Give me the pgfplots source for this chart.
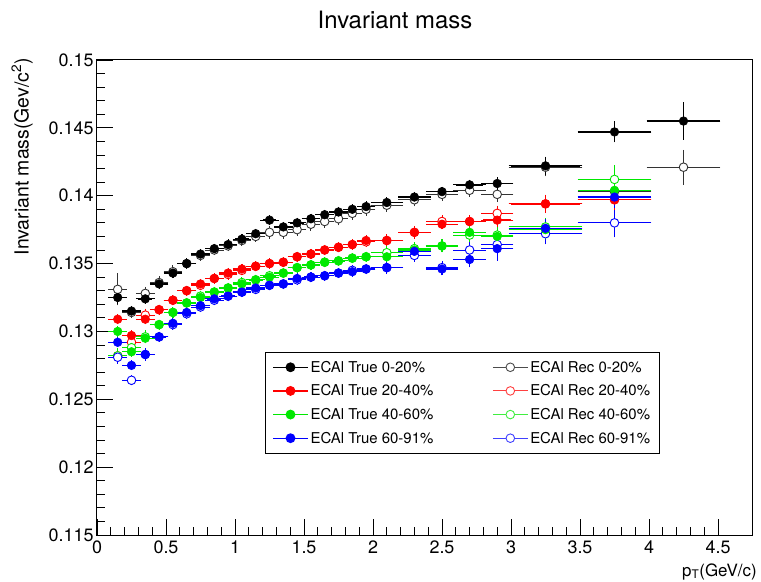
\documentclass[border=0pt]{standalone}
\usepackage{pgfplots}
\pgfplotsset{compat=1.18}
\usepackage{fontspec}
\setmainfont{TeX Gyre Heros}
\definecolor{rred}{RGB}{255,0,0}
\definecolor{rgreen}{RGB}{0,232,0}
\definecolor{rblue}{RGB}{0,0,255}
\newcommand{\padR}{\hspace{12bp}}
\pgfplotsset{
  trueS/.style={only marks, mark=*, mark size=4.3bp, color=#1,
    mark options={fill=#1, draw=#1, line width=0.6bp},
    error bars/x dir=both, error bars/x explicit,
    error bars/y dir=both, error bars/y explicit,
    error bars/error bar style={color=#1, line width=1.3bp},
    error bars/error mark options={color=#1, mark size=2.4bp, line width=1.2bp}},
  recS/.style={only marks, mark=*, mark size=4.3bp, color=#1,
    mark options={fill=white, draw=#1, line width=0.9bp},
    error bars/x dir=both, error bars/x explicit,
    error bars/y dir=both, error bars/y explicit,
    error bars/error bar style={color=#1, line width=0.9bp},
    error bars/error mark options={color=#1, mark size=2.4bp, line width=0.9bp}},
  legT/.style={color=#1, mark=*, mark size=4.3bp, line width=1.2bp,
    mark options={fill=#1, draw=#1},
    legend image code/.code={\draw[mark repeat=2,mark phase=2] plot coordinates {(0bp,0bp) (17.5bp,0bp) (35bp,0bp)};}},
  legR/.style={color=#1, mark=*, mark size=4.3bp, line width=0.9bp,
    mark options={fill=white, draw=#1},
    legend image code/.code={\draw[mark repeat=2,mark phase=2] plot coordinates {(0bp,0bp) (17.5bp,0bp) (35bp,0bp)};}},
}
\begin{document}
\begin{tikzpicture}
\path[use as bounding box] (-97bp,-47bp) rectangle (664bp,535bp);
\begin{axis}[
  at={(0,0)}, anchor=south west,
  scale only axis, width=655.5bp, height=475bp,
  xmin=0, xmax=4.75, ymin=0.115, ymax=0.15,
  xtick={0,0.5,1,1.5,2,2.5,3,3.5,4,4.5},
  ytick={0.115,0.12,0.125,0.13,0.135,0.14,0.145,0.15},
  minor x tick num=4, minor y tick num=4,
  tick pos=left, tick align=inside,
  major tick length=16bp, minor tick length=8bp,
  every tick/.style={black, line width=0.9bp},
  axis line style={black, line width=1bp},
  scaled y ticks=false, scaled x ticks=false,
  /pgf/number format/assume math mode=true,
  ticklabel style={font=\fontsize{18}{21}\selectfont},
  xticklabel style={yshift=-2bp, /pgf/number format/.cd, fixed, precision=2},
  yticklabel style={/pgf/number format/.cd, fixed, precision=3},
  legend columns=2, legend cell align=left,
  legend style={at={(axis cs:1.2174,0.12848)}, anchor=north west,
    draw=black, line width=0.8bp, fill=white,
    font=\fontsize{15}{17}\selectfont,
    inner xsep=7bp, inner ysep=6.5bp, row sep=7bp,
    /tikz/every even column/.append style={column sep=57bp}},
]
\addlegendimage{legT=black}\addlegendentry{ECAl True 0-20\%}
\addlegendimage{legR=black!70}\addlegendentry{ECAl Rec 0-20\%\padR}
\addlegendimage{legT=rred}\addlegendentry{ECAl True 20-40\%}
\addlegendimage{legR=rred!75}\addlegendentry{ECAl Rec 20-40\%\padR}
\addlegendimage{legT=rgreen}\addlegendentry{ECAl True 40-60\%}
\addlegendimage{legR=rgreen!75}\addlegendentry{ECAl Rec 40-60\%\padR}
\addlegendimage{legT=rblue}\addlegendentry{ECAl True 60-91\%}
\addlegendimage{legR=rblue!75}\addlegendentry{ECAl Rec 60-91\%\padR}

% ---------- Rec (open) ----------
\addplot[recS=black!80, forget plot] table[x=x, y=y, x error=ex, y error=ey] {
x y ex ey
0.15 0.1331 0.05 0.0010
0.25 0.1314 0.05 0.0002
0.35 0.1328 0.05 0.0003
0.45 0.1336 0.05 0.0003
0.55 0.1344 0.05 0.0003
0.65 0.1350 0.05 0.0002
0.75 0.1356 0.05 0.0002
0.85 0.1360 0.05 0.0002
0.95 0.1363 0.05 0.0002
1.05 0.1367 0.05 0.0002
1.15 0.1370 0.05 0.0002
1.25 0.1373 0.05 0.0003
1.35 0.1373 0.05 0.0003
1.45 0.1375 0.05 0.0003
1.55 0.1379 0.05 0.0003
1.65 0.1381 0.05 0.0003
1.75 0.1383 0.05 0.0003
1.85 0.1387 0.05 0.0003
1.95 0.1390 0.05 0.0003
2.1 0.1393 0.1 0.0003
2.3 0.1397 0.1 0.0003
2.5 0.1401 0.1 0.0003
2.7 0.1404 0.1 0.0003
2.9 0.1401 0.1 0.0004
3.25 0.1421 0.25 0.0005
3.75 0.1403 0.25 0.0007
4.25 0.1421 0.25 0.0011
};
\addplot[recS=rred, forget plot] table[x=x, y=y, x error=ex, y error=ey] {
x y ex ey
0.15 0.1282 0.05 0.0004
0.25 0.1292 0.05 0.0003
0.35 0.1312 0.05 0.0003
0.45 0.1316 0.05 0.0002
0.55 0.1323 0.05 0.0002
0.65 0.1330 0.05 0.0002
0.75 0.1334 0.05 0.0002
0.85 0.1339 0.05 0.0002
0.95 0.1342 0.05 0.0002
1.05 0.1345 0.05 0.0002
1.15 0.1348 0.05 0.0002
1.25 0.1350 0.05 0.0002
1.35 0.1351 0.05 0.0002
1.45 0.1355 0.05 0.0002
1.55 0.1357 0.05 0.0002
1.65 0.1360 0.05 0.0002
1.75 0.1362 0.05 0.0002
1.85 0.1364 0.05 0.0002
1.95 0.1366 0.05 0.0002
2.1 0.1367 0.1 0.0003
2.3 0.1373 0.1 0.0003
2.5 0.1381 0.1 0.0003
2.7 0.1381 0.1 0.0003
2.9 0.1387 0.1 0.0004
3.25 0.1394 0.25 0.0005
3.75 0.1397 0.25 0.0006
};
\addplot[recS=rgreen, forget plot] table[x=x, y=y, x error=ex, y error=ey] {
x y ex ey
0.15 0.1282 0.05 0.0004
0.25 0.1288 0.05 0.0003
0.35 0.1296 0.05 0.0003
0.45 0.1305 0.05 0.0002
0.55 0.1314 0.05 0.0002
0.65 0.1321 0.05 0.0002
0.75 0.1326 0.05 0.0002
0.85 0.1329 0.05 0.0002
0.95 0.1332 0.05 0.0002
1.05 0.1336 0.05 0.0002
1.15 0.1338 0.05 0.0002
1.25 0.1341 0.05 0.0002
1.35 0.1343 0.05 0.0002
1.45 0.1347 0.05 0.0002
1.55 0.1349 0.05 0.0002
1.65 0.1351 0.05 0.0002
1.75 0.1352 0.05 0.0002
1.85 0.1354 0.05 0.0002
1.95 0.1355 0.05 0.0002
2.1 0.1358 0.1 0.0003
2.3 0.1361 0.1 0.0003
2.5 0.1363 0.1 0.0003
2.7 0.1371 0.1 0.0004
2.9 0.1371 0.1 0.0004
3.25 0.1377 0.25 0.0005
3.75 0.1412 0.25 0.0009
};
\addplot[recS=rblue, forget plot] table[x=x, y=y, x error=ex, y error=ey] {
x y ex ey
0.15 0.1281 0.05 0.0003
0.25 0.1264 0.05 0.0002
0.35 0.1283 0.05 0.0003
0.45 0.1296 0.05 0.0002
0.55 0.1305 0.05 0.0002
0.65 0.1313 0.05 0.0002
0.75 0.1318 0.05 0.0002
0.85 0.1323 0.05 0.0002
0.95 0.1326 0.05 0.0002
1.05 0.1329 0.05 0.0002
1.15 0.1331 0.05 0.0002
1.25 0.1334 0.05 0.0002
1.35 0.1335 0.05 0.0002
1.45 0.1338 0.05 0.0002
1.55 0.1340 0.05 0.0002
1.65 0.1341 0.05 0.0002
1.75 0.1343 0.05 0.0002
1.85 0.1345 0.05 0.0002
1.95 0.1346 0.05 0.0002
2.1 0.1347 0.1 0.0003
2.3 0.1356 0.1 0.0003
2.5 0.1347 0.1 0.0003
2.7 0.1360 0.1 0.0004
2.9 0.1364 0.1 0.0005
3.25 0.1372 0.25 0.0006
3.75 0.1380 0.25 0.0009
};
% ---------- True (filled) ----------
\addplot[trueS=black, forget plot] table[x=x, y=y, x error=ex, y error=ey] {
x y ex ey
0.15 0.1325 0.05 0.0003
0.25 0.1315 0.05 0.0002
0.35 0.1324 0.05 0.0002
0.45 0.1335 0.05 0.0002
0.55 0.1343 0.05 0.0002
0.65 0.1350 0.05 0.0002
0.75 0.1357 0.05 0.0002
0.85 0.1361 0.05 0.0002
0.95 0.1364 0.05 0.0002
1.05 0.1368 0.05 0.0002
1.15 0.1372 0.05 0.0002
1.25 0.1382 0.05 0.0002
1.35 0.1377 0.05 0.0002
1.45 0.1380 0.05 0.0002
1.55 0.1383 0.05 0.0002
1.65 0.1386 0.05 0.0002
1.75 0.1388 0.05 0.0002
1.85 0.1390 0.05 0.0002
1.95 0.1392 0.05 0.0002
2.1 0.1395 0.1 0.0002
2.3 0.1399 0.1 0.0002
2.5 0.1403 0.1 0.0002
2.7 0.1408 0.1 0.0002
2.9 0.1409 0.1 0.0003
3.25 0.1422 0.25 0.0005
3.75 0.1447 0.25 0.0006
4.25 0.1455 0.25 0.0012
};
\addplot[trueS=rred, forget plot] table[x=x, y=y, x error=ex, y error=ey] {
x y ex ey
0.15 0.1309 0.05 0.0002
0.25 0.1297 0.05 0.0002
0.35 0.1309 0.05 0.0002
0.45 0.1316 0.05 0.0002
0.55 0.1323 0.05 0.0002
0.65 0.1330 0.05 0.0002
0.75 0.1335 0.05 0.0002
0.85 0.1339 0.05 0.0002
0.95 0.1343 0.05 0.0002
1.05 0.1346 0.05 0.0002
1.15 0.1348 0.05 0.0002
1.25 0.1350 0.05 0.0002
1.35 0.1351 0.05 0.0002
1.45 0.1355 0.05 0.0002
1.55 0.1357 0.05 0.0002
1.65 0.1360 0.05 0.0002
1.75 0.1362 0.05 0.0002
1.85 0.1364 0.05 0.0002
1.95 0.1367 0.05 0.0002
2.1 0.1367 0.1 0.0002
2.3 0.1373 0.1 0.0002
2.5 0.1379 0.1 0.0002
2.7 0.1381 0.1 0.0003
2.9 0.1382 0.1 0.0003
3.25 0.1394 0.25 0.0004
3.75 0.1397 0.25 0.0006
};
\addplot[trueS=rgreen, forget plot] table[x=x, y=y, x error=ex, y error=ey] {
x y ex ey
0.15 0.1300 0.05 0.0002
0.25 0.1285 0.05 0.0002
0.35 0.1295 0.05 0.0002
0.45 0.1305 0.05 0.0002
0.55 0.1314 0.05 0.0002
0.65 0.1321 0.05 0.0002
0.75 0.1325 0.05 0.0002
0.85 0.1329 0.05 0.0002
0.95 0.1332 0.05 0.0002
1.05 0.1335 0.05 0.0002
1.15 0.1338 0.05 0.0002
1.25 0.1340 0.05 0.0002
1.35 0.1343 0.05 0.0002
1.45 0.1347 0.05 0.0002
1.55 0.1349 0.05 0.0002
1.65 0.1351 0.05 0.0002
1.75 0.1352 0.05 0.0002
1.85 0.1354 0.05 0.0002
1.95 0.1355 0.05 0.0002
2.1 0.1355 0.1 0.0002
2.3 0.1360 0.1 0.0002
2.5 0.1363 0.1 0.0003
2.7 0.1373 0.1 0.0003
2.9 0.1370 0.1 0.0003
3.25 0.1375 0.25 0.0005
3.75 0.1404 0.25 0.0006
};
\addplot[trueS=rblue, forget plot] table[x=x, y=y, x error=ex, y error=ey] {
x y ex ey
0.15 0.1292 0.05 0.0002
0.25 0.1275 0.05 0.0002
0.35 0.1283 0.05 0.0002
0.45 0.1296 0.05 0.0002
0.55 0.1306 0.05 0.0002
0.65 0.1314 0.05 0.0002
0.75 0.1319 0.05 0.0002
0.85 0.1324 0.05 0.0002
0.95 0.1326 0.05 0.0002
1.05 0.1329 0.05 0.0002
1.15 0.1332 0.05 0.0002
1.25 0.1334 0.05 0.0002
1.35 0.1335 0.05 0.0002
1.45 0.1339 0.05 0.0002
1.55 0.1340 0.05 0.0002
1.65 0.1341 0.05 0.0002
1.75 0.1343 0.05 0.0002
1.85 0.1344 0.05 0.0002
1.95 0.1346 0.05 0.0002
2.1 0.1347 0.1 0.0002
2.3 0.1359 0.1 0.0003
2.5 0.1346 0.1 0.0003
2.7 0.1353 0.1 0.0004
2.9 0.1361 0.1 0.0007
3.25 0.1376 0.25 0.0005
3.75 0.1399 0.25 0.0006
};
\end{axis}
\node[font=\fontsize{24}{27}\selectfont] at (298bp,515bp) {Invariant mass};
\node[font=\fontsize{19.5}{22}\selectfont, rotate=90, anchor=east, inner sep=0pt] at (-75bp,477bp) {Invariant mass(Gev/c\textsuperscript{2})};
\node[font=\fontsize{17}{20}\selectfont, anchor=base east, inner sep=0pt] at (660bp,-41bp) {p\textsubscript{T}(GeV/c)};
\end{tikzpicture}
\end{document}
